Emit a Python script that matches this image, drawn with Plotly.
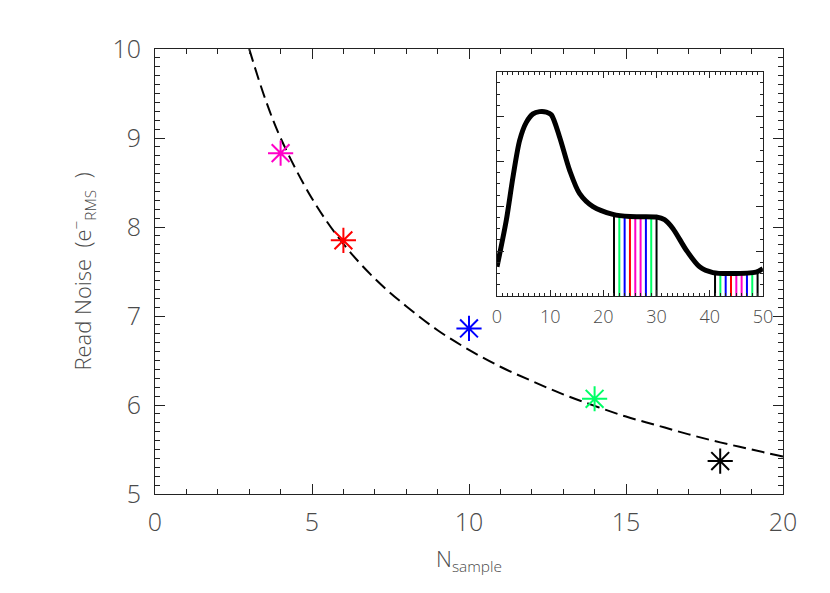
import plotly.graph_objects as go

# ---- main panel data ----
n_sample = [4, 6, 10, 14, 18]
read_noise = [8.83, 7.85, 6.86, 6.07, 5.37]
point_colors = ["#FF00C8", "#FF0000", "#0000FF", "#00FF66", "#000000"]

fit_n = [3.0, 3.5, 4, 5, 6, 7, 8, 9, 10, 11, 12, 13, 14, 15, 16, 17, 18, 19, 20]
fit_noise = [10.0, 9.45, 9.0, 8.32, 7.81, 7.42, 7.11, 6.84, 6.62, 6.43, 6.27,
             6.12, 5.99, 5.87, 5.77, 5.67, 5.58, 5.50, 5.42]

# ---- inset data ----
ramp_x = [0, 1.75, 3.0, 4.26, 5.51, 6.77, 8.0, 9.27, 10.21, 11.78, 13.66, 15.54,
          18.05, 21.8, 25.0, 29.95, 31.5, 33.1, 35.6, 38.1, 40.6, 44.0, 48.7, 50]
ramp_y = [0.65, 1.69, 2.65, 3.47, 3.87, 4.06, 4.11, 4.10, 4.04, 3.54, 2.80, 2.28,
          1.99, 1.82, 1.77, 1.76, 1.70, 1.50, 1.02, 0.65, 0.52, 0.50, 0.53, 0.61]

group1_x = [22, 23, 24, 25, 26, 27, 28, 29, 30]
group1_h = [1.80, 1.79, 1.78, 1.78, 1.77, 1.77, 1.76, 1.76, 1.76]
group2_x = [41, 42, 43, 44, 45, 46, 47, 48, 49]
group2_h = [0.51, 0.50, 0.50, 0.50, 0.50, 0.50, 0.51, 0.52, 0.53]
group_colors = ["#000000", "#00FF66", "#0000FF", "#FF0000", "#FF00C8",
                "#FF00C8", "#0000FF", "#00FF66", "#000000"]

FONT = "Open Sans"
TXT = "#4a4a4a"

fig = go.Figure()

# dashed fit curve
fig.add_trace(go.Scatter(x=fit_n, y=fit_noise, mode="lines",
                         line=dict(color="black", width=2, dash="13px,6px", shape="spline"),
                         showlegend=False, hoverinfo="skip"))

# measured points
for xv, yv, c in zip(n_sample, read_noise, point_colors):
    fig.add_trace(go.Scatter(x=[xv], y=[yv], mode="markers",
                             marker=dict(symbol="asterisk-open", size=21, color=c,
                                         line=dict(color=c, width=2)),
                             showlegend=False))

# inset sample lines
for gx, gh in ((group1_x, group1_h), (group2_x, group2_h)):
    for xv, hv, c in zip(gx, gh, group_colors):
        fig.add_trace(go.Scatter(x=[xv, xv], y=[0, hv], mode="lines",
                                 line=dict(color=c, width=2),
                                 xaxis="x2", yaxis="y2", showlegend=False))

# inset ramp curve
fig.add_trace(go.Scatter(x=ramp_x, y=ramp_y, mode="lines",
                         line=dict(color="black", width=5, shape="spline", smoothing=0.8),
                         xaxis="x2", yaxis="y2", showlegend=False))

axis_common = dict(showgrid=False, zeroline=False, showline=True, linecolor="#222222",
                   linewidth=1, mirror="allticks", ticks="inside", tickcolor="#222222")

fig.update_layout(
    width=830, height=593, autosize=False,
    margin=dict(l=155, r=47, t=49, b=99),
    plot_bgcolor="white", paper_bgcolor="white",
    font=dict(family=FONT, color=TXT, weight=300),
    xaxis=dict(range=[0, 20], tickvals=[0, 5, 10, 15, 20], ticklen=10,
               minor=dict(dtick=1, ticklen=5, ticks="inside", tickcolor="#222222"),
               tickfont=dict(size=25, family=FONT, color=TXT, weight=300),
               ticklabelstandoff=6,
               title=dict(text="N<sub>sample</sub>", font=dict(size=22, family=FONT, color=TXT, weight=300),
                          standoff=14),
               **axis_common),
    yaxis=dict(range=[5, 10], tickvals=[5, 6, 7, 8, 9, 10], ticklen=10,
               minor=dict(dtick=0.1, ticklen=5, ticks="inside", tickcolor="#222222"),
               tickfont=dict(size=25, family=FONT, color=TXT, weight=300),
               ticklabelstandoff=8,
               title=dict(text="Read Noise  (e<sup>−</sup><sub>RMS</sub>  )",
                          font=dict(size=22, family=FONT, color=TXT, weight=300), standoff=14),
               **axis_common),
    xaxis2=dict(domain=[0.5446, 0.968], anchor="y2", range=[0, 50],
                tickvals=[0, 10, 20, 30, 40, 50], ticklen=6,
                minor=dict(dtick=1, ticklen=3, ticks="inside", tickcolor="#222222"),
                tickfont=dict(size=18, family=FONT, color=TXT, weight=300),
                ticklabelstandoff=4,
                **axis_common),
    yaxis2=dict(domain=[0.445, 0.949], anchor="x2", range=[0, 5],
                tickvals=[1, 2, 3, 4], ticklen=7, showticklabels=False,
                minor=dict(dtick=0.25, ticklen=3, ticks="inside", tickcolor="#222222"),
                **axis_common),
)

fig.write_html("out.html", config={"displayModeBar": False},
               post_script="document.body.style.margin='0';")
